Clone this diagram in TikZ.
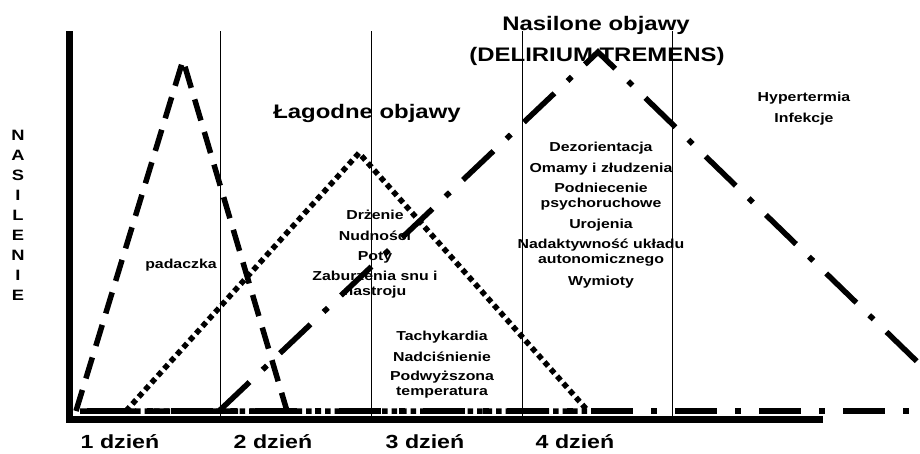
\documentclass[tikz,border=0pt]{standalone}
\usepackage{fontspec}
\newfontfamily\chartfont{Liberation Sans}[FakeStretch=1.22]
\tikzset{
    symptom/.style={font=\chartfont\bfseries\fontsize{13}{15}\selectfont, align=center, inner sep=0pt},
    heading/.style={font=\chartfont\bfseries\fontsize{19.6}{24}\selectfont, align=center, inner sep=0pt},
    daylabel/.style={font=\chartfont\bfseries\fontsize{19}{23}\selectfont, inner sep=0pt},
    axislabel/.style={font=\chartfont\bfseries\fontsize{15}{20}\selectfont, align=center, inner sep=0pt},
    axisline/.style={line width=7pt},
    dayline/.style={line width=0.8pt},
    seizureline/.style={line width=5.5pt, dash pattern=on 22pt off 12pt},
    mildline/.style={line width=5.5pt, dash pattern=on 5.5pt off 4pt},
    severeline/.style={line width=5.5pt, dash pattern=on 42pt off 18pt on 6pt off 18pt},
}

\begin{document}
\begin{tikzpicture}[x=1pt, y=-1pt]
            \useasboundingbox (0,0) rectangle (920,453);

            % Headings
            \node[heading] (nasilone) at (596,25) {Nasilone objawy};
            \node[heading] (delirium) at (597,56) {(DELIRIUM TREMENS)};
            \node[heading] (lagodne) at (367,113) {Łagodne objawy};

            % Axis label
            \node[axislabel] (nasilenie) at (18,215) {N\\A\\S\\I\\L\\E\\N\\I\\E};

            % Days
            \node[daylabel] (day1) at (120,442) {1 dzień};
            \node[daylabel] (day2) at (273,442) {2 dzień};
            \node[daylabel] (day3) at (425,442) {3 dzień};
            \node[daylabel] (day4) at (575,442) {4 dzień};

            % Symptoms
            \node[symptom] (padaczka) at (181,265) {padaczka};

            \node[symptom] (drzenie) at (375,215) {Drżenie};
            \node[symptom] (nudnosci) at (375,236) {Nudności};
            \node[symptom] (poty) at (375,257) {Poty};
            \node[symptom] (zaburzenia) at (375,285) {Zaburzenia snu i\\nastroju};

            \node[symptom] (tachykardia) at (442,337) {Tachykardia};
            \node[symptom] (nadcisnienie) at (442,357) {Nadciśnienie};
            \node[symptom] (temperatura) at (442,385) {Podwyższona\\temperatura};

            \node[symptom] (dezorientacja) at (601,148) {Dezorientacja};
            \node[symptom] (omamy) at (601,169) {Omamy i złudzenia};
            \node[symptom] (podniecenie) at (601,197) {Podniecenie\\psychoruchowe};
            \node[symptom] (urojenia) at (601,225) {Urojenia};
            \node[symptom] (nadaktywnosc) at (601,253) {Nadaktywność układu\\autonomicznego};
            \node[symptom] (wymioty) at (601,282) {Wymioty};

            \node[symptom] (hypertermia) at (804,98) {Hypertermia};
            \node[symptom] (infekcje) at (804,119) {Infekcje};

            % Day separators
            \draw[dayline] (220,31) -- (220,416);
            \draw[dayline] (371,31) -- (371,416);
            \draw[dayline] (522,31) -- (522,416);
            \draw[dayline] (672,31) -- (672,416);

            % Axes
            \draw[axisline] (69.5,31) -- (69.5,419) -- (823,419);

            % Curves
            \begin{scope}
                \clip (0,0) rectangle (920,453);
                \draw[severeline] (87,411) -- (968,411);
                \draw[severeline] (219,411) -- (598,52) -- (968,411);
            \end{scope}
            \draw[mildline] (126,411) -- (359,153) -- (588,411) -- cycle;
            \draw[seizureline] (76,411) -- (183,60) -- (287,411) -- cycle;
        \end{tikzpicture}
\end{document}
